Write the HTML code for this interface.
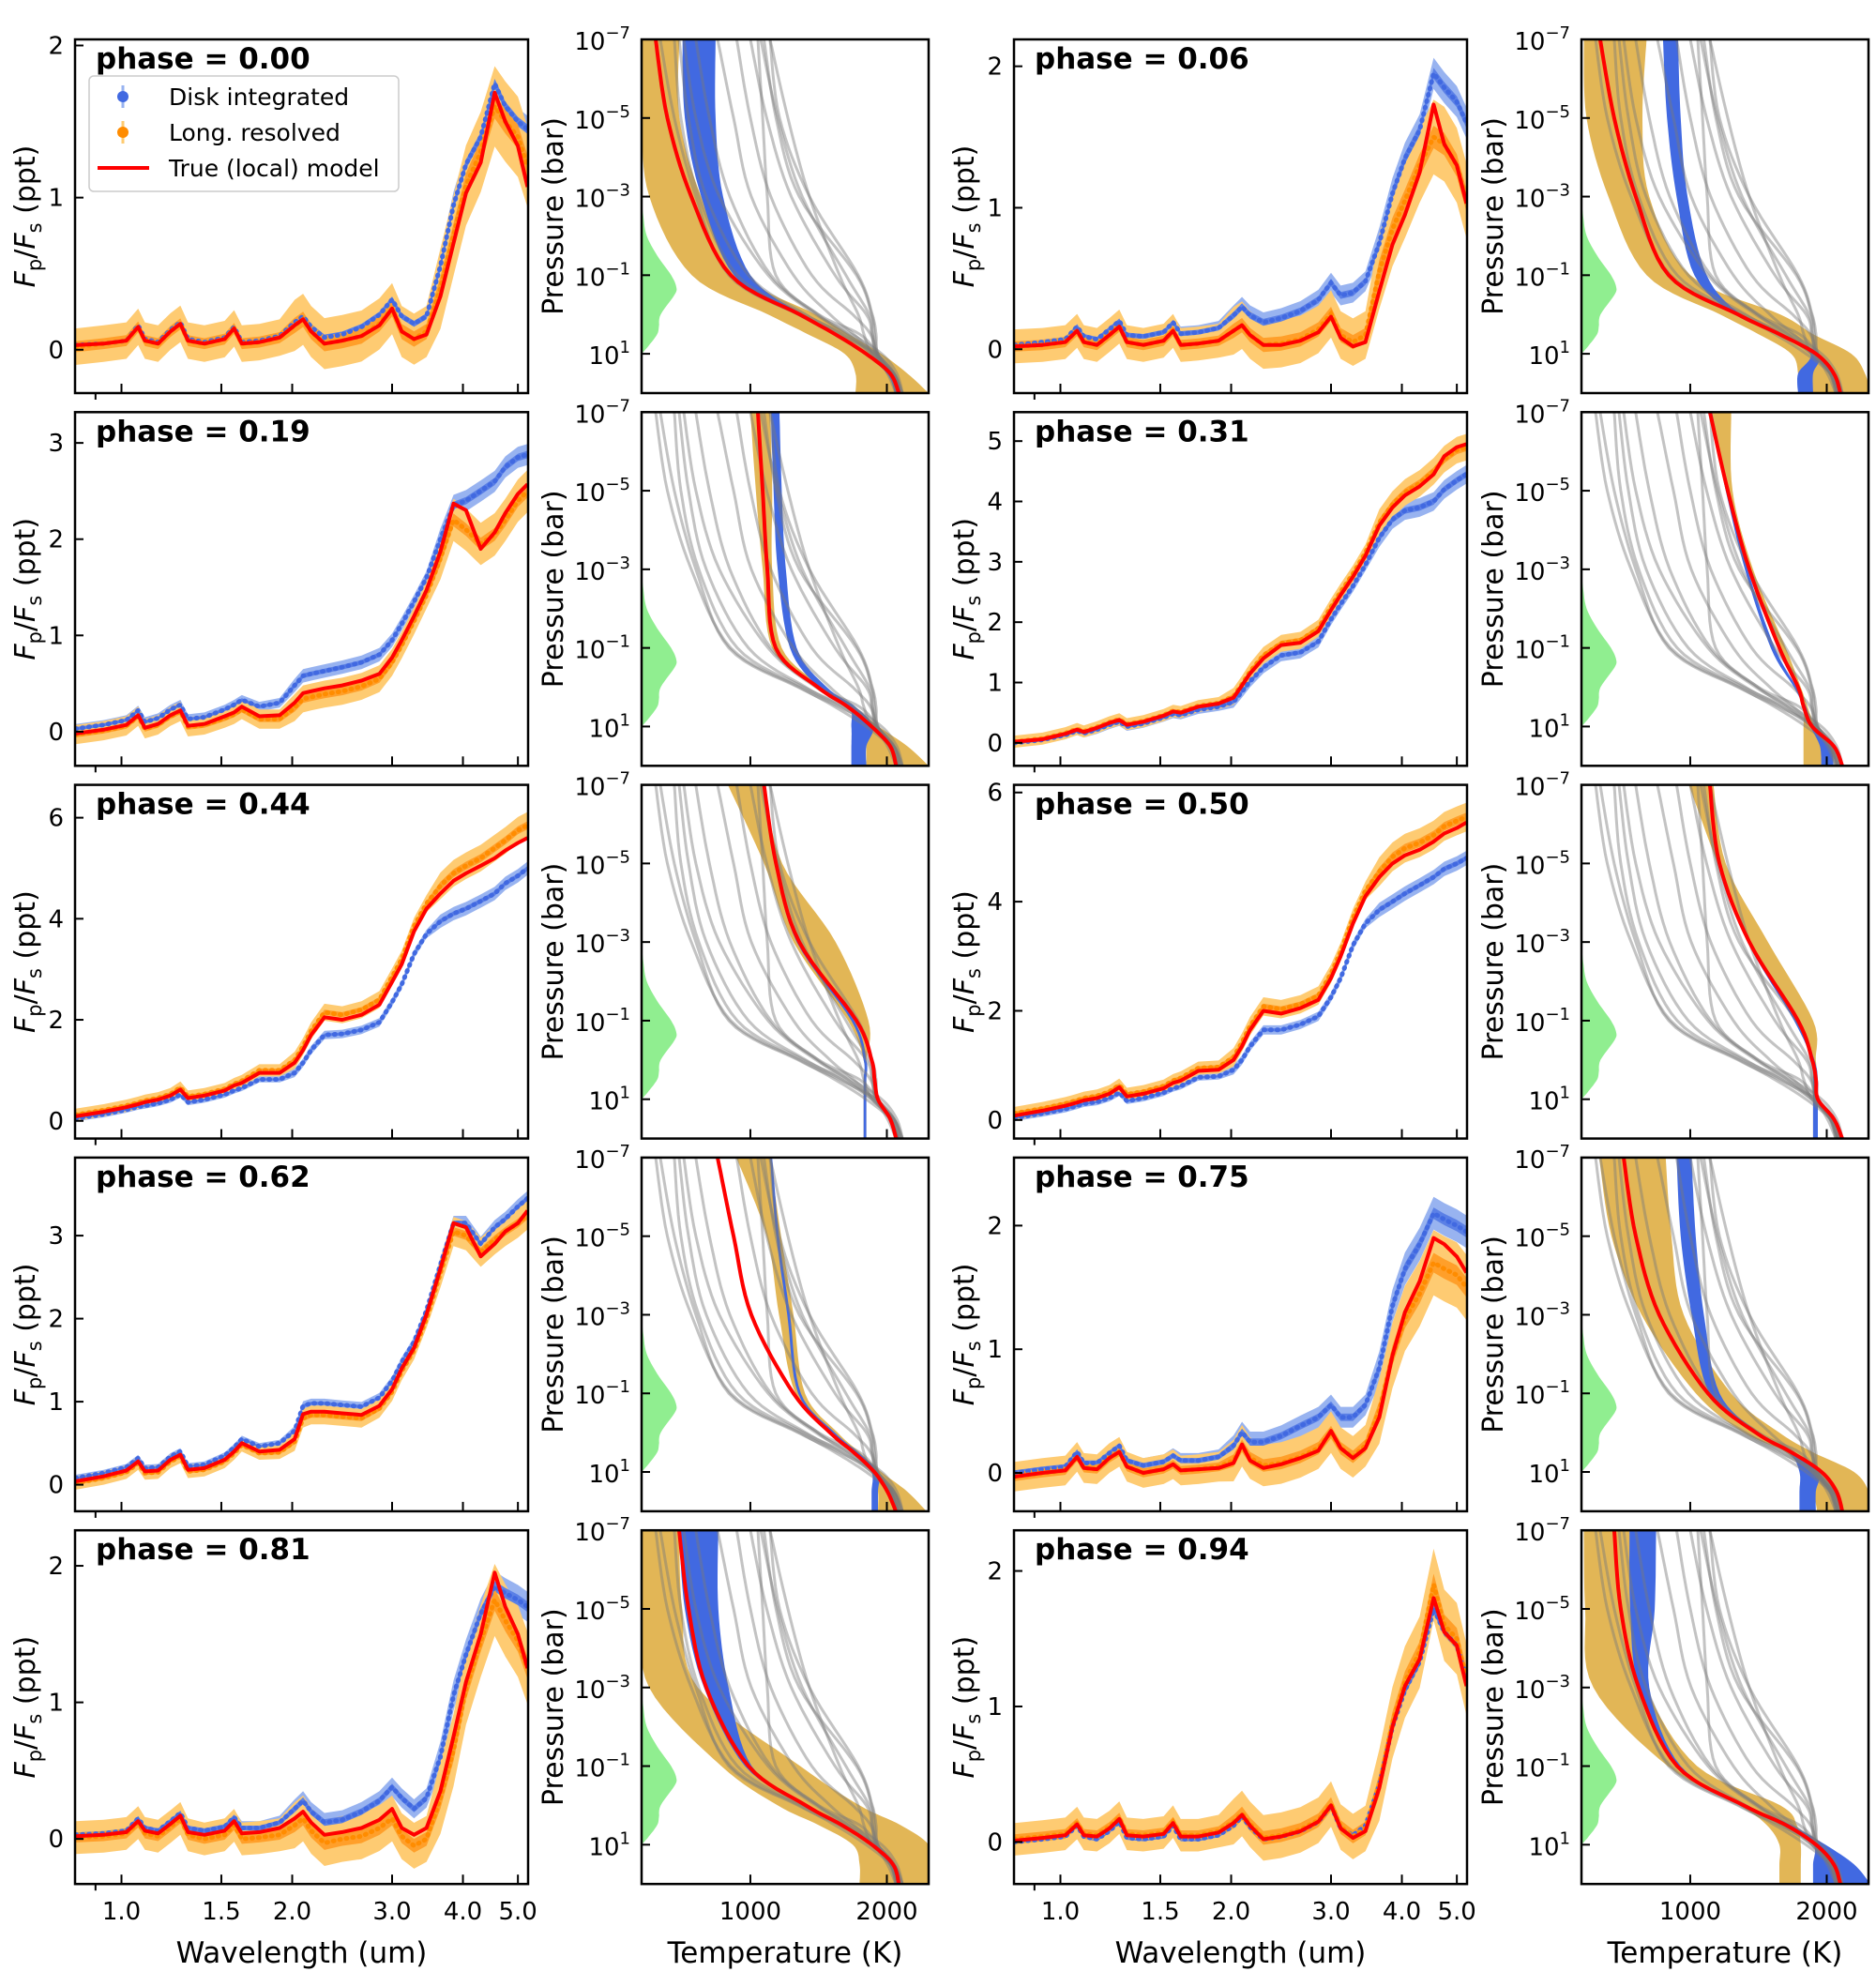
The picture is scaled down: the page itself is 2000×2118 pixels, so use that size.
<!DOCTYPE html>
<html><head><meta charset="utf-8"><style>
html,body{margin:0;padding:0;background:#fff}
svg{display:block;font-family:"DejaVu Sans","Liberation Sans",sans-serif}
</style></head><body>
<svg id="fig" width="2000" height="2118" viewBox="0 0 2000 2118" xmlns="http://www.w3.org/2000/svg">
<rect width="2000" height="2118" fill="#fff"/>
</svg>
<script>
// ---------- spectral data ----------
const wavelengths=[0.83,0.93,1.02,1.07,1.10,1.16,1.22,1.27,1.31,1.40,1.52,1.58,1.63,1.75,1.90,2.02,2.09,2.16,2.28,2.45,2.65,2.85,3.00,3.12,3.28,3.45,3.65,3.85,4.05,4.30,4.55,4.75,5.00,5.20];
const errShape=[1,1,1,1,1,1,1,1,1,1,1,1,1,1,1,1.4,1.4,1.4,1.4,1.4,1.4,1.4,1.4,1.4,1.4,1.4,2.2,2.2,2.2,2.2,2.2,2.2,2.2,2.2];
const phaseLabels=["0.00","0.06","0.19","0.31","0.44","0.50","0.62","0.75","0.81","0.94"];
const errBlue=[0.04,0.05,0.05,0.07,0.06,0.06,0.04,0.06,0.05,0.04];
const errOrange=[0.12,0.12,0.1,0.1,0.12,0.12,0.08,0.12,0.12,0.12];
const yMin=[-0.285,-0.31,-0.355,-0.38,-0.35,-0.34,-0.32,-0.31,-0.33,-0.31];
const yMax=[2.04,2.19,3.32,5.48,6.65,6.14,3.94,2.55,2.26,2.30];
const yTicks=[[0,1,2],[0,1,2],[0,1,2,3],[0,1,2,3,4,5],[0,2,4,6],[0,2,4,6],[0,1,2,3],[0,1,2],[0,1,2],[0,1,2]];
const xTickVals=[1.0,1.5,2.0,3.0,4.0,5.0];
const xTickLabels=["1.0","1.5","2.0","3.0","4.0","5.0"];

const model000=[0.03,0.04,0.06,0.15,0.06,0.04,0.12,0.17,0.06,0.04,0.07,0.14,0.04,0.05,0.08,0.16,0.2,0.12,0.04,0.06,0.09,0.16,0.27,0.12,0.07,0.1,0.35,0.7,1.03,1.23,1.69,1.5,1.34,1.07];
const disk000=[0.03,0.04,0.06,0.16,0.07,0.05,0.13,0.18,0.07,0.05,0.08,0.15,0.05,0.06,0.09,0.18,0.22,0.15,0.08,0.1,0.15,0.23,0.33,0.22,0.17,0.22,0.55,0.95,1.22,1.4,1.75,1.6,1.5,1.45];
const long000=[0.02,0.04,0.06,0.15,0.06,0.04,0.12,0.17,0.06,0.04,0.07,0.14,0.04,0.05,0.08,0.16,0.2,0.12,0.04,0.06,0.09,0.17,0.27,0.12,0.07,0.12,0.4,0.75,1.08,1.3,1.6,1.5,1.4,1.2];

const model006=[0.02,0.03,0.05,0.13,0.05,0.03,0.1,0.16,0.05,0.03,0.06,0.13,0.03,0.04,0.06,0.13,0.17,0.1,0.03,0.03,0.06,0.12,0.23,0.08,0.02,0.05,0.41,0.74,0.95,1.25,1.73,1.45,1.3,1.03];
const disk006=[0.03,0.05,0.07,0.16,0.09,0.07,0.14,0.2,0.1,0.09,0.12,0.19,0.11,0.12,0.15,0.24,0.3,0.24,0.19,0.22,0.27,0.35,0.47,0.38,0.4,0.48,0.75,1.1,1.35,1.55,1.95,1.85,1.75,1.6];
const long006=[0.02,0.03,0.05,0.13,0.05,0.03,0.1,0.16,0.05,0.03,0.06,0.13,0.03,0.04,0.06,0.13,0.17,0.1,0.03,0.04,0.07,0.14,0.25,0.1,0.05,0.1,0.55,0.85,1.05,1.3,1.5,1.45,1.3,1.05];

const model019=[-0.02,0.02,0.07,0.17,0.04,0.08,0.17,0.22,0.06,0.08,0.16,0.2,0.26,0.16,0.17,0.3,0.4,0.42,0.45,0.48,0.53,0.6,0.77,0.95,1.2,1.47,1.87,2.37,2.3,1.9,2.07,2.27,2.47,2.57];
const disk019=[0.03,0.07,0.12,0.22,0.1,0.14,0.23,0.28,0.13,0.15,0.23,0.28,0.33,0.26,0.3,0.48,0.58,0.6,0.63,0.67,0.72,0.8,0.95,1.12,1.35,1.6,2.0,2.35,2.4,2.5,2.6,2.75,2.85,2.88];
const long019=[-0.03,0.01,0.06,0.16,0.03,0.07,0.16,0.21,0.05,0.07,0.14,0.18,0.23,0.13,0.13,0.25,0.34,0.36,0.39,0.42,0.47,0.55,0.72,0.9,1.15,1.42,1.8,2.2,2.1,1.95,2.05,2.2,2.4,2.5];

const model031=[0.02,0.06,0.15,0.22,0.18,0.25,0.33,0.38,0.3,0.35,0.45,0.52,0.5,0.6,0.65,0.75,0.95,1.15,1.4,1.62,1.66,1.85,2.2,2.45,2.75,3.1,3.6,3.9,4.1,4.25,4.45,4.75,4.9,4.95];
const disk031=[0.0,0.05,0.13,0.2,0.16,0.22,0.3,0.35,0.27,0.32,0.42,0.48,0.46,0.55,0.6,0.68,0.85,1.02,1.25,1.45,1.5,1.68,2.05,2.3,2.6,2.95,3.4,3.7,3.85,3.9,4.0,4.2,4.35,4.45];
const long031=[0.02,0.07,0.16,0.23,0.19,0.26,0.34,0.39,0.31,0.36,0.46,0.53,0.51,0.61,0.66,0.77,0.97,1.18,1.45,1.65,1.7,1.9,2.25,2.5,2.8,3.15,3.65,3.95,4.15,4.3,4.5,4.7,4.85,4.9];

const model044=[0.09,0.18,0.27,0.33,0.37,0.42,0.5,0.62,0.45,0.5,0.6,0.7,0.75,0.95,0.95,1.15,1.4,1.7,2.05,2.0,2.1,2.3,2.75,3.1,3.75,4.2,4.5,4.75,4.9,5.05,5.2,5.35,5.5,5.6];
const disk044=[0.05,0.13,0.22,0.28,0.3,0.35,0.42,0.52,0.37,0.42,0.52,0.6,0.65,0.82,0.82,0.95,1.15,1.4,1.7,1.72,1.8,1.95,2.35,2.7,3.3,3.7,3.95,4.1,4.2,4.35,4.5,4.7,4.85,5.0];
const long044=[0.12,0.21,0.3,0.36,0.4,0.45,0.53,0.66,0.48,0.53,0.63,0.73,0.79,1.0,1.0,1.2,1.47,1.78,2.15,2.1,2.2,2.4,2.85,3.2,3.85,4.3,4.65,4.9,5.05,5.2,5.4,5.55,5.75,5.85];

const model050=[0.08,0.17,0.26,0.32,0.36,0.4,0.48,0.6,0.43,0.48,0.58,0.68,0.72,0.9,0.92,1.1,1.35,1.65,2.0,1.95,2.05,2.2,2.6,3.0,3.6,4.1,4.45,4.7,4.85,4.95,5.1,5.25,5.35,5.45];
const disk050=[0.04,0.12,0.2,0.26,0.3,0.33,0.4,0.5,0.35,0.4,0.5,0.58,0.62,0.78,0.8,0.92,1.1,1.35,1.65,1.65,1.75,1.9,2.25,2.6,3.2,3.6,3.85,4.0,4.15,4.3,4.45,4.6,4.7,4.8];
const long050=[0.12,0.21,0.3,0.36,0.4,0.44,0.52,0.64,0.47,0.52,0.62,0.72,0.77,0.95,0.97,1.15,1.42,1.72,2.08,2.03,2.12,2.28,2.68,3.08,3.7,4.2,4.55,4.82,4.98,5.08,5.22,5.38,5.48,5.55];

const model062=[0.04,0.1,0.17,0.28,0.16,0.17,0.3,0.36,0.18,0.2,0.3,0.4,0.5,0.4,0.42,0.55,0.85,0.88,0.88,0.86,0.84,0.95,1.15,1.4,1.65,2.05,2.6,3.15,3.1,2.75,2.9,3.05,3.15,3.3];
const disk062=[0.08,0.14,0.21,0.32,0.2,0.21,0.34,0.4,0.22,0.24,0.35,0.45,0.55,0.46,0.5,0.65,0.95,0.98,0.98,0.96,0.94,1.05,1.25,1.48,1.72,2.1,2.65,3.15,3.15,2.9,3.1,3.2,3.35,3.45];
const long062=[0.02,0.08,0.15,0.26,0.14,0.15,0.28,0.34,0.16,0.18,0.28,0.38,0.48,0.38,0.39,0.52,0.8,0.84,0.84,0.82,0.8,0.92,1.12,1.37,1.62,2.0,2.55,3.05,3.0,2.8,2.95,3.05,3.15,3.25];

const model075=[-0.03,0.0,0.02,0.13,0.04,0.03,0.12,0.17,0.05,0.0,0.03,0.07,0.02,0.03,0.04,0.08,0.23,0.1,0.04,0.07,0.12,0.18,0.34,0.2,0.12,0.2,0.45,0.95,1.3,1.55,1.9,1.85,1.75,1.62];
const disk075=[0.0,0.03,0.05,0.17,0.08,0.08,0.16,0.22,0.1,0.06,0.09,0.14,0.1,0.1,0.13,0.22,0.33,0.25,0.25,0.3,0.38,0.45,0.55,0.45,0.45,0.55,0.85,1.35,1.65,1.85,2.1,2.05,2.0,1.95];
const long075=[-0.03,0.0,0.02,0.13,0.04,0.03,0.12,0.17,0.05,0.0,0.03,0.07,0.02,0.03,0.05,0.1,0.22,0.12,0.06,0.08,0.13,0.2,0.33,0.2,0.13,0.22,0.5,0.95,1.25,1.45,1.7,1.65,1.6,1.5];

const model081=[0.02,0.03,0.05,0.13,0.06,0.04,0.11,0.17,0.05,0.03,0.06,0.13,0.04,0.05,0.08,0.15,0.2,0.12,0.03,0.05,0.08,0.14,0.22,0.08,0.03,0.08,0.35,0.75,1.15,1.5,1.95,1.7,1.5,1.25];
const disk081=[0.03,0.04,0.06,0.15,0.08,0.06,0.13,0.19,0.08,0.06,0.09,0.16,0.08,0.08,0.12,0.22,0.28,0.2,0.12,0.14,0.2,0.28,0.38,0.3,0.22,0.3,0.6,1.05,1.35,1.65,1.85,1.8,1.75,1.7];
const long081=[0.01,0.02,0.04,0.12,0.04,0.02,0.09,0.15,0.03,0.0,0.03,0.1,0.0,0.01,0.03,0.1,0.15,0.06,-0.03,0.0,0.02,0.08,0.15,0.02,-0.05,0.0,0.3,0.65,1.1,1.45,1.75,1.6,1.45,1.25];

const model094=[0.01,0.03,0.05,0.13,0.05,0.04,0.1,0.17,0.05,0.04,0.06,0.14,0.04,0.04,0.07,0.14,0.2,0.12,0.02,0.04,0.08,0.15,0.27,0.1,0.03,0.08,0.4,0.85,1.15,1.35,1.8,1.55,1.45,1.15];
const disk094=[0.0,0.02,0.04,0.12,0.04,0.02,0.08,0.15,0.03,0.02,0.04,0.12,0.02,0.02,0.05,0.12,0.19,0.11,0.02,0.04,0.08,0.15,0.27,0.1,0.05,0.12,0.42,0.85,1.12,1.33,1.72,1.55,1.45,1.2];
const long094=[0.02,0.04,0.06,0.14,0.06,0.05,0.11,0.18,0.06,0.05,0.07,0.15,0.05,0.05,0.08,0.15,0.21,0.13,0.03,0.05,0.09,0.16,0.28,0.11,0.04,0.1,0.42,0.88,1.18,1.4,1.9,1.6,1.5,1.2];

// ---------- temperature-pressure data ----------
const logPLevels=[-7,-5,-3,-1,0,0.5,1,1.5,2];
const tTicks=[1000,2000];
const pTickExp=[-7,-5,-3,-1,1];
const contribLogP=[-3,-2.5,-2,-1.5,-1,-0.7,-0.5,0,0.3,0.5,0.8,1];
const contribWeight=[0,0.05,0.15,0.45,0.85,1,0.95,0.55,0.5,0.45,0.2,0];

const tpTrue000=[306,392,567,856,1362,1620,1848,2024,2088];
const tpLongLo000=[203,203,260,570,1130,1420,1690,1770,1770];
const tpLongHi000=[480,480,640,950,1480,1720,1960,2150,2306];
const tpDiskLo000=[503,520,640,880,1340,1600,1830,2000,2060];
const tpDiskHi000=[745,745,800,1000,1380,1640,1870,2050,2110];

const tpTrue006=[340,443,601,842,1350,1653,1921,2052,2100];
const tpLongLo006=[220,240,400,680,1220,1500,1740,1790,1790];
const tpLongHi006=[680,650,700,1000,1660,1900,2180,2280,2320];
const tpDiskLo006=[800,830,900,1030,1330,1640,1880,1790,1790];
const tpDiskHi006=[910,930,980,1120,1370,1670,1940,1900,1900];

const tpTrue019=[1055,1090,1124,1186,1495,1715,1888,2024,2068];
const tpLongLo019=[1000,1040,1090,1160,1470,1690,1860,1850,1850];
const tpLongHi019=[1145,1160,1160,1230,1540,1760,1940,2150,2306];
const tpDiskLo019=[1150,1170,1200,1290,1500,1720,1740,1740,1740];
const tpDiskHi019=[1213,1230,1260,1340,1560,1770,1900,1850,1850];

const tpTrue031=[1144,1275,1433,1653,1790,1832,1893,2052,2114];
const tpLongLo031=[1144,1260,1420,1640,1780,1830,1830,1830,1830];
const tpLongHi031=[1300,1310,1460,1700,1810,1860,1910,1960,1960];
const tpDiskLo031=[1144,1260,1400,1590,1760,1830,1880,1950,1960];
const tpDiskHi031=[1160,1275,1420,1620,1780,1850,1900,2030,2050];

const tpTrue044=[1100,1188,1358,1777,1888,1910,1935,2024,2068];
const tpLongLo044=[835,1100,1316,1715,1830,1830,1830,1830,1830];
const tpLongHi044=[1100,1233,1625,1865,1850,1850,1850,1850,1850];
const tpDiskLo044=[1100,1180,1340,1740,1830,1830,1830,1830,1830];
const tpDiskHi044=[1110,1195,1360,1760,1850,1850,1850,1850,1850];

const tpTrue050=[1144,1214,1433,1790,1893,1921,1935,2052,2114];
const tpLongLo050=[990,1200,1433,1790,1890,1900,1900,1900,1900];
const tpLongHi050=[1170,1260,1570,1900,1920,1935,1935,1935,1935];
const tpDiskLo050=[1144,1200,1420,1760,1890,1900,1900,1900,1900];
const tpDiskHi050=[1150,1214,1440,1790,1910,1935,1935,1935,1935];

const tpTrue062=[760,877,1007,1316,1584,1757,1908,2004,2066];
const tpLongLo062=[897,1120,1210,1330,1590,1760,1900,1935,1935];
const tpLongHi062=[1144,1225,1316,1400,1640,1800,1960,2150,2290];
const tpDiskLo062=[1144,1190,1270,1350,1600,1770,1888,1888,1888];
const tpDiskHi062=[1160,1210,1290,1370,1620,1790,1935,1935,1935];

const tpTrue075=[512,601,773,1130,1481,1742,1962,2072,2114];
const tpLongLo075=[334,423,643,1041,1392,1700,1832,1900,1930];
const tpLongHi075=[820,862,952,1300,1653,1900,2200,2306,2306];
const tpDiskLo075=[900,930,1010,1140,1460,1720,1800,1800,1800];
const tpDiskHi075=[1010,1040,1100,1215,1500,1760,1940,1920,1920];

const tpTrue081=[478,547,677,986,1406,1670,1890,2045,2088];
const tpLongLo081=[203,203,258,787,1200,1500,1750,1800,1800];
const tpLongHi081=[478,500,615,1365,1800,2100,2306,2306,2306];
const tpDiskLo081=[478,520,660,960,1390,1660,1880,2030,2080];
const tpDiskHi081=[765,765,840,1010,1420,1690,1900,2060,2100];

const tpTrue094=[443,491,622,904,1392,1701,1921,2052,2100];
const tpLongLo094=[220,230,290,835,1360,1560,1653,1653,1653];
const tpLongHi094=[600,600,680,1050,1660,1780,1810,1810,1810];
const tpDiskLo094=[555,560,622,904,1392,1700,1900,1900,1900];
const tpDiskHi094=[750,740,700,930,1420,1740,1990,2200,2320];

const tpGrayExtra1=[1076,1200,1380,1700,1870,1895,1930,2030,2080];
const tpGrayExtra2=[1000,1120,1300,1620,1850,1890,1925,2030,2080];
const tpGrayExtra3=[900,1000,1150,1450,1750,1880,1920,2030,2080];
const tpGrayExtra4=[600,700,850,1150,1500,1800,1930,2030,2080];

const modelSeries=[model000,model006,model019,model031,model044,model050,model062,model075,model081,model094];
const diskSeries=[disk000,disk006,disk019,disk031,disk044,disk050,disk062,disk075,disk081,disk094];
const longSeries=[long000,long006,long019,long031,long044,long050,long062,long075,long081,long094];
const tpTrueSeries=[tpTrue000,tpTrue006,tpTrue019,tpTrue031,tpTrue044,tpTrue050,tpTrue062,tpTrue075,tpTrue081,tpTrue094];
const tpGraySeries=tpTrueSeries.concat([tpGrayExtra1,tpGrayExtra2,tpGrayExtra3,tpGrayExtra4]);
const tpLongLoSeries=[tpLongLo000,tpLongLo006,tpLongLo019,tpLongLo031,tpLongLo044,tpLongLo050,tpLongLo062,tpLongLo075,tpLongLo081,tpLongLo094];
const tpLongHiSeries=[tpLongHi000,tpLongHi006,tpLongHi019,tpLongHi031,tpLongHi044,tpLongHi050,tpLongHi062,tpLongHi075,tpLongHi081,tpLongHi094];
const tpDiskLoSeries=[tpDiskLo000,tpDiskLo006,tpDiskLo019,tpDiskLo031,tpDiskLo044,tpDiskLo050,tpDiskLo062,tpDiskLo075,tpDiskLo081,tpDiskLo094];
const tpDiskHiSeries=[tpDiskHi000,tpDiskHi006,tpDiskHi019,tpDiskHi031,tpDiskHi044,tpDiskHi050,tpDiskHi062,tpDiskHi075,tpDiskHi081,tpDiskHi094];

// ---------- layout ----------
const NS='http://www.w3.org/2000/svg';
const svg=document.getElementById('fig');
const SPEC_X=[80,1081], SPEC_W=483;
const TP_X=[684,1686], TP_W=306;
const ROW_Y0=42, ROW_STEP=397.3, PH=377;
const T_MIN=203, T_MAX=2306, LP_MIN=-7, LP_MAX=2;

function mk(tag,attrs,parent){const e=document.createElementNS(NS,tag);for(const k in attrs)e.setAttribute(k,attrs[k]);(parent||svg).appendChild(e);return e;}
function crSample(pts,n){
  const out=[];
  for(let i=0;i<pts.length-1;i++){
    const p0=pts[Math.max(i-1,0)],p1=pts[i],p2=pts[i+1],p3=pts[Math.min(i+2,pts.length-1)];
    for(let k=0;k<n;k++){
      const t=k/n,t2=t*t,t3=t2*t;
      const f=(a,b,c,d)=>0.5*((2*b)+(-a+c)*t+(2*a-5*b+4*c-d)*t2+(-a+3*b-3*c+d)*t3);
      out.push([f(p0[0],p1[0],p2[0],p3[0]),f(p0[1],p1[1],p2[1],p3[1])]);
    }
  }
  out.push(pts[pts.length-1]);
  return out;
}
const ptsStr=a=>a.map(p=>p[0].toFixed(1)+','+p[1].toFixed(1)).join(' ');

for(let i=0;i<10;i++){
  const r=Math.floor(i/2),c=i%2;
  const y0=ROW_Y0+r*ROW_STEP;
  // ===== spectrum panel =====
  const x0=SPEC_X[c];
  const sx=l=>x0+49.5+262.6*Math.log(l);
  const sy=v=>y0+PH*(yMax[i]-v)/(yMax[i]-yMin[i]);
  const g=mk('g',{});
  
  
  const cp=mk('clipPath',{id:'cs'+i},g);
  mk('rect',{x:x0,y:y0,width:SPEC_W,height:PH},cp);
  const pg=mk('g',{'clip-path':'url(#cs'+i+')'},g);
  function band(series,err,scale,fill,name){
    const up=wavelengths.map((l,k)=>[sx(l),sy(series[k]+err*scale*errShape[k])]);
    const lo=wavelengths.map((l,k)=>[sx(l),sy(series[k]-err*scale*errShape[k])]).reverse();
    const p=mk('polygon',{points:ptsStr(up.concat(lo)),fill:fill,stroke:'none'},pg);
    
    
  }
  band(diskSeries[i],errBlue[i],1,'#98b3f0','disk-integrated-error-band');
  band(longSeries[i],errOrange[i],1,'#fecb72','long-resolved-error-band');
  band(diskSeries[i],errBlue[i],0.35,'#5b80e6','disk-integrated-inner-band');
  band(longSeries[i],errOrange[i],0.3,'#ff9f2a','long-resolved-inner-band');
  const dpl=mk('polyline',{points:ptsStr(wavelengths.map((l,k)=>[sx(l),sy(diskSeries[i][k])])),fill:'none',stroke:'#4169e1','stroke-width':5,'stroke-dasharray':'1 6','stroke-linecap':'round'},pg);
  
  
  const opl=mk('polyline',{points:ptsStr(wavelengths.map((l,k)=>[sx(l),sy(longSeries[i][k])])),fill:'none',stroke:'#ff8c00','stroke-width':5,'stroke-dasharray':'1 6','stroke-linecap':'round'},pg);
  
  
  const rl=mk('polyline',{points:ptsStr(wavelengths.map((l,k)=>[sx(l),sy(modelSeries[i][k])])),fill:'none',stroke:'#ff0000','stroke-width':4,'stroke-linejoin':'round'},pg);
  
  
  xTickVals.forEach((v,k)=>{
    const t=mk('line',{x1:sx(v),x2:sx(v),y1:y0+PH,y2:y0+PH-10,stroke:'#000','stroke-width':2},g);
    
    
    if(r===4){
      const tl=mk('text',{x:sx(v),y:2046,'text-anchor':'middle','font-size':26},g);
      tl.textContent=xTickLabels[k];
      
      
    }
  });
  const mt=mk('line',{x1:sx(0.9),x2:sx(0.9),y1:y0+PH,y2:y0+PH+7,stroke:'#000','stroke-width':2},g);
  
  
  yTicks[i].forEach(v=>{
    const t=mk('line',{x1:x0,x2:x0+9,y1:sy(v),y2:sy(v),stroke:'#000','stroke-width':2},g);
    
    
    const tl=mk('text',{x:x0-12,y:sy(v)+9,'text-anchor':'end','font-size':26},g);
    tl.textContent=String(v);
    
    
  });
  const fr=mk('rect',{x:x0,y:y0,width:SPEC_W,height:PH,fill:'none',stroke:'#000','stroke-width':2.5},g);
  
  
  const ph=mk('text',{x:x0+22,y:y0+31,'font-size':31,'font-weight':'bold'},g);
  ph.textContent='phase = '+phaseLabels[i];
  
  
  const yl=mk('text',{transform:'translate('+(x0-43)+','+(y0+PH/2)+') rotate(-90)','text-anchor':'middle','font-size':30},g);
  yl.innerHTML='<tspan font-style="italic">F</tspan><tspan font-size="21" dy="7">p</tspan><tspan dy="-7">/</tspan><tspan font-style="italic">F</tspan><tspan font-size="21" dy="7">s</tspan><tspan dy="-7"> (ppt)</tspan>';
  
  

  // ===== T-P panel =====
  const tx0=TP_X[c];
  const tx=T=>tx0+(T-T_MIN)/(T_MAX-T_MIN)*TP_W;
  const ty=lp=>y0+(lp-LP_MIN)/(LP_MAX-LP_MIN)*PH;
  const tg=mk('g',{});
  
  
  const cp2=mk('clipPath',{id:'ct'+i},tg);
  mk('rect',{x:tx0,y:y0,width:TP_W,height:PH},cp2);
  const tpg=mk('g',{'clip-path':'url(#ct'+i+')'},tg);
  const cpts=contribLogP.map((lp,k)=>[tx0+37*contribWeight[k],ty(lp)]);
  const cs=crSample(cpts,6);
  const gp=mk('polygon',{points:ptsStr([[tx0,ty(contribLogP[0])]].concat(cs,[[tx0,ty(contribLogP[contribLogP.length-1])]])),fill:'#90ee90'},tpg);
  
  
  function tband(lo,hi,fill,name){
    const a=crSample(logPLevels.map((lp,k)=>[tx(lo[k]),ty(lp)]),8);
    const b=crSample(logPLevels.map((lp,k)=>[tx(hi[k]),ty(lp)]),8).reverse();
    const p=mk('polygon',{points:ptsStr(a.concat(b)),fill:fill},tpg);
    
    
  }
  tband(tpLongLoSeries[i],tpLongHiSeries[i],'#e2b656','long-resolved-tp-band');
  tband(tpDiskLoSeries[i],tpDiskHiSeries[i],'#4169e1','disk-integrated-tp-band');
  tpGraySeries.forEach(prof=>{
    const l=mk('polyline',{points:ptsStr(crSample(logPLevels.map((lp,k)=>[tx(prof[k]),ty(lp)]),8)),fill:'none',stroke:'#7a7a7a','stroke-opacity':0.45,'stroke-width':3},tpg);
    
    
  });
  const trl=mk('polyline',{points:ptsStr(crSample(logPLevels.map((lp,k)=>[tx(tpTrueSeries[i][k]),ty(lp)]),8)),fill:'none',stroke:'#ff0000','stroke-width':4},tpg);
  
  
  tTicks.forEach(v=>{
    const t=mk('line',{x1:tx(v),x2:tx(v),y1:y0+PH,y2:y0+PH-10,stroke:'#000','stroke-width':2},tg);
    
    
    if(r===4){
      const tl=mk('text',{x:tx(v),y:2046,'text-anchor':'middle','font-size':26},tg);
      tl.textContent=String(v);
      
      
    }
  });
  pTickExp.forEach(e=>{
    const t=mk('line',{x1:tx0,x2:tx0+9,y1:ty(e),y2:ty(e),stroke:'#000','stroke-width':2},tg);
    
    
    const tl=mk('text',{x:tx0-12,y:ty(e)+11,'text-anchor':'end','font-size':26},tg);
    tl.innerHTML='10<tspan font-size="18" dy="-12">'+(e<0?'\u2212'+(-e):e)+'</tspan>';
    
    
  });
  const fr2=mk('rect',{x:tx0,y:y0,width:TP_W,height:PH,fill:'none',stroke:'#000','stroke-width':2.5},tg);
  
  
  const pl=mk('text',{transform:'translate('+(tx0-84)+','+(y0+PH/2)+') rotate(-90)','text-anchor':'middle','font-size':30},tg);
  pl.textContent='Pressure (bar)';
  
  
  if(r===4){
    const wl=mk('text',{x:x0+SPEC_W/2,y:2092,'text-anchor':'middle','font-size':31},svg);
    wl.textContent='Wavelength (um)';
    
    
    const tt=mk('text',{x:tx0+TP_W/2,y:2092,'text-anchor':'middle','font-size':31},svg);
    tt.textContent='Temperature (K)';
    
    
  }
}

// ---------- legend ----------
const lg=mk('g',{});


mk('rect',{x:95,y:81,width:330,height:123,rx:5,fill:'#fff','fill-opacity':0.85,stroke:'#cccccc','stroke-width':1.5},lg);
const legEntries=[['Disk integrated','#98b3f0','#4169e1',103],['Long. resolved','#fecb72','#ff8c00',141]];
legEntries.forEach(en=>{
  const eg=mk('g',{},lg);
  
  
  mk('line',{x1:131,x2:131,y1:en[3]-12,y2:en[3]+12,stroke:en[1],'stroke-width':3},eg);
  mk('circle',{cx:131,cy:en[3],r:6,fill:en[2]},eg);
  const t=mk('text',{x:180,y:en[3]+9,'font-size':25},eg);
  t.textContent=en[0];
});
const le3=mk('g',{},lg);


mk('line',{x1:104,x2:159,y1:179,y2:179,stroke:'#ff0000','stroke-width':4},le3);
const lt3=mk('text',{x:180,y:188,'font-size':25},le3);
lt3.textContent='True (local) model';
</script>
</body></html>
